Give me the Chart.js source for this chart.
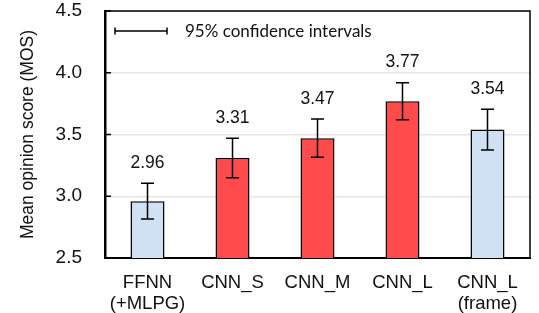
<!DOCTYPE html>
<html>
<head>
<meta charset="utf-8">
<script src="https://cdn.jsdelivr.net/npm/chart.js@4"></script>
<style>
  html, body { margin: 0; padding: 0; background: #fff; }
  canvas { display: block; }
</style>
</head>
<body>
<canvas id="mosChart" width="539" height="313"></canvas>
<script>
// data
const categories = [["FFNN", "(+MLPG)"], "CNN_S", "CNN_M", "CNN_L", ["CNN_L", "(frame)"]];
const mosScores = [2.96, 3.31, 3.47, 3.77, 3.54];
const ciHalfWidth = [0.145, 0.16, 0.155, 0.15, 0.165]; // 95% CI, +/- around the mean
const barColors = ["#cfe1f2", "#ff4b4b", "#ff4b4b", "#ff4b4b", "#cfe1f2"];
const yTicks = [2.5, 3.0, 3.5, 4.0, 4.5];

const FONT = "'Liberation Sans', Arial, sans-serif";

// error bars + value labels above them
const errorBarPlugin = {
  id: "errorBars",
  afterDatasetsDraw(chart) {
    const { ctx, scales: { y } } = chart;
    const meta = chart.getDatasetMeta(0);
    ctx.save();
    ctx.strokeStyle = "#000";
    ctx.lineWidth = 1.5;
    meta.data.forEach((bar, i) => {
      const top = y.getPixelForValue(mosScores[i] + ciHalfWidth[i]);
      const bot = y.getPixelForValue(mosScores[i] - ciHalfWidth[i]);
      const x = bar.x;
      ctx.beginPath();
      ctx.moveTo(x, top); ctx.lineTo(x, bot);
      ctx.moveTo(x - 6.5, top); ctx.lineTo(x + 6.5, top);
      ctx.moveTo(x - 6.5, bot); ctx.lineTo(x + 6.5, bot);
      ctx.stroke();

      ctx.fillStyle = "#111";
      ctx.font = "17.5px " + FONT;
      ctx.textAlign = "center";
      ctx.textBaseline = "middle";
      ctx.fillText(mosScores[i].toFixed(2), x, top - 20);
    });
    ctx.restore();
  },
};

// box around plot + inner tick marks + legend note
const framePlugin = {
  id: "frame",
  afterDraw(chart) {
    const { ctx, chartArea: a, scales: { y } } = chart;
    ctx.save();
    ctx.strokeStyle = "#000";
    ctx.lineWidth = 1.5;
    ctx.beginPath();
    ctx.moveTo(a.left, a.top); ctx.lineTo(a.right, a.top); ctx.lineTo(a.right, a.bottom);
    ctx.stroke();

    yTicks.forEach((t) => {
      const py = y.getPixelForValue(t);
      ctx.beginPath();
      ctx.moveTo(a.left, py); ctx.lineTo(a.left + 6, py);
      ctx.stroke();
    });

    // "95% confidence intervals" key
    const ly = a.top + 20;
    const lx0 = a.left + 10, lx1 = a.left + 62;
    ctx.beginPath();
    ctx.moveTo(lx0, ly); ctx.lineTo(lx1, ly);
    ctx.moveTo(lx0, ly - 3.5); ctx.lineTo(lx0, ly + 3.5);
    ctx.moveTo(lx1, ly - 3.5); ctx.lineTo(lx1, ly + 3.5);
    ctx.stroke();
    ctx.fillStyle = "#111";
    ctx.font = "17px Lato, 'Open Sans', sans-serif";
    ctx.textAlign = "left";
    ctx.textBaseline = "middle";
    ctx.fillText("95% confidence intervals", a.left + 80, ly + 1);
    ctx.restore();
  },
};

new Chart(document.getElementById("mosChart"), {
  type: "bar",
  data: {
    labels: categories,
    datasets: [{
      data: mosScores,
      backgroundColor: barColors,
      borderColor: "#000",
      borderWidth: 1.5,
      barPercentage: 0.4,
      categoryPercentage: 1.0,
    }],
  },
  options: {
    responsive: false,
    animation: false,
    devicePixelRatio: 1,
    layout: { padding: { top: 11, right: 9, left: 0, bottom: 0 } },
    plugins: { legend: { display: false }, tooltip: { enabled: false } },
    scales: {
      x: {
        grid: { display: false, drawTicks: false },
        border: { display: true, color: "#000", width: 2 },
        ticks: { color: "#111", font: { family: FONT, size: 18.5, lineHeight: 1.15 }, padding: 14, maxRotation: 0 },
        afterFit: (s) => { s.height = 55; s.paddingLeft = 0; s.paddingRight = 0; },
      },
      y: {
        min: 2.5,
        max: 4.5,
        afterBuildTicks: (s) => { s.ticks = yTicks.map((v) => ({ value: v })); },
        grid: { color: "#e6e6e6", lineWidth: 1.5, drawTicks: false },
        border: { display: true, color: "#000", width: 2.5 },
        ticks: {
          color: "#111",
          font: { family: FONT, size: 19 },
          padding: 23,
          callback: (v) => Number(v).toFixed(1),
        },
        title: {
          display: true,
          text: "Mean opinion score (MOS)",
          color: "#111",
          font: { family: FONT, size: 17.5 },
          padding: { top: 17.5, bottom: 0 },
        },
        afterFit: (s) => { s.width = 105; s.paddingTop = 0; s.paddingBottom = 0; },
      },
    },
  },
  plugins: [errorBarPlugin, framePlugin],
});
</script>
</body>
</html>
